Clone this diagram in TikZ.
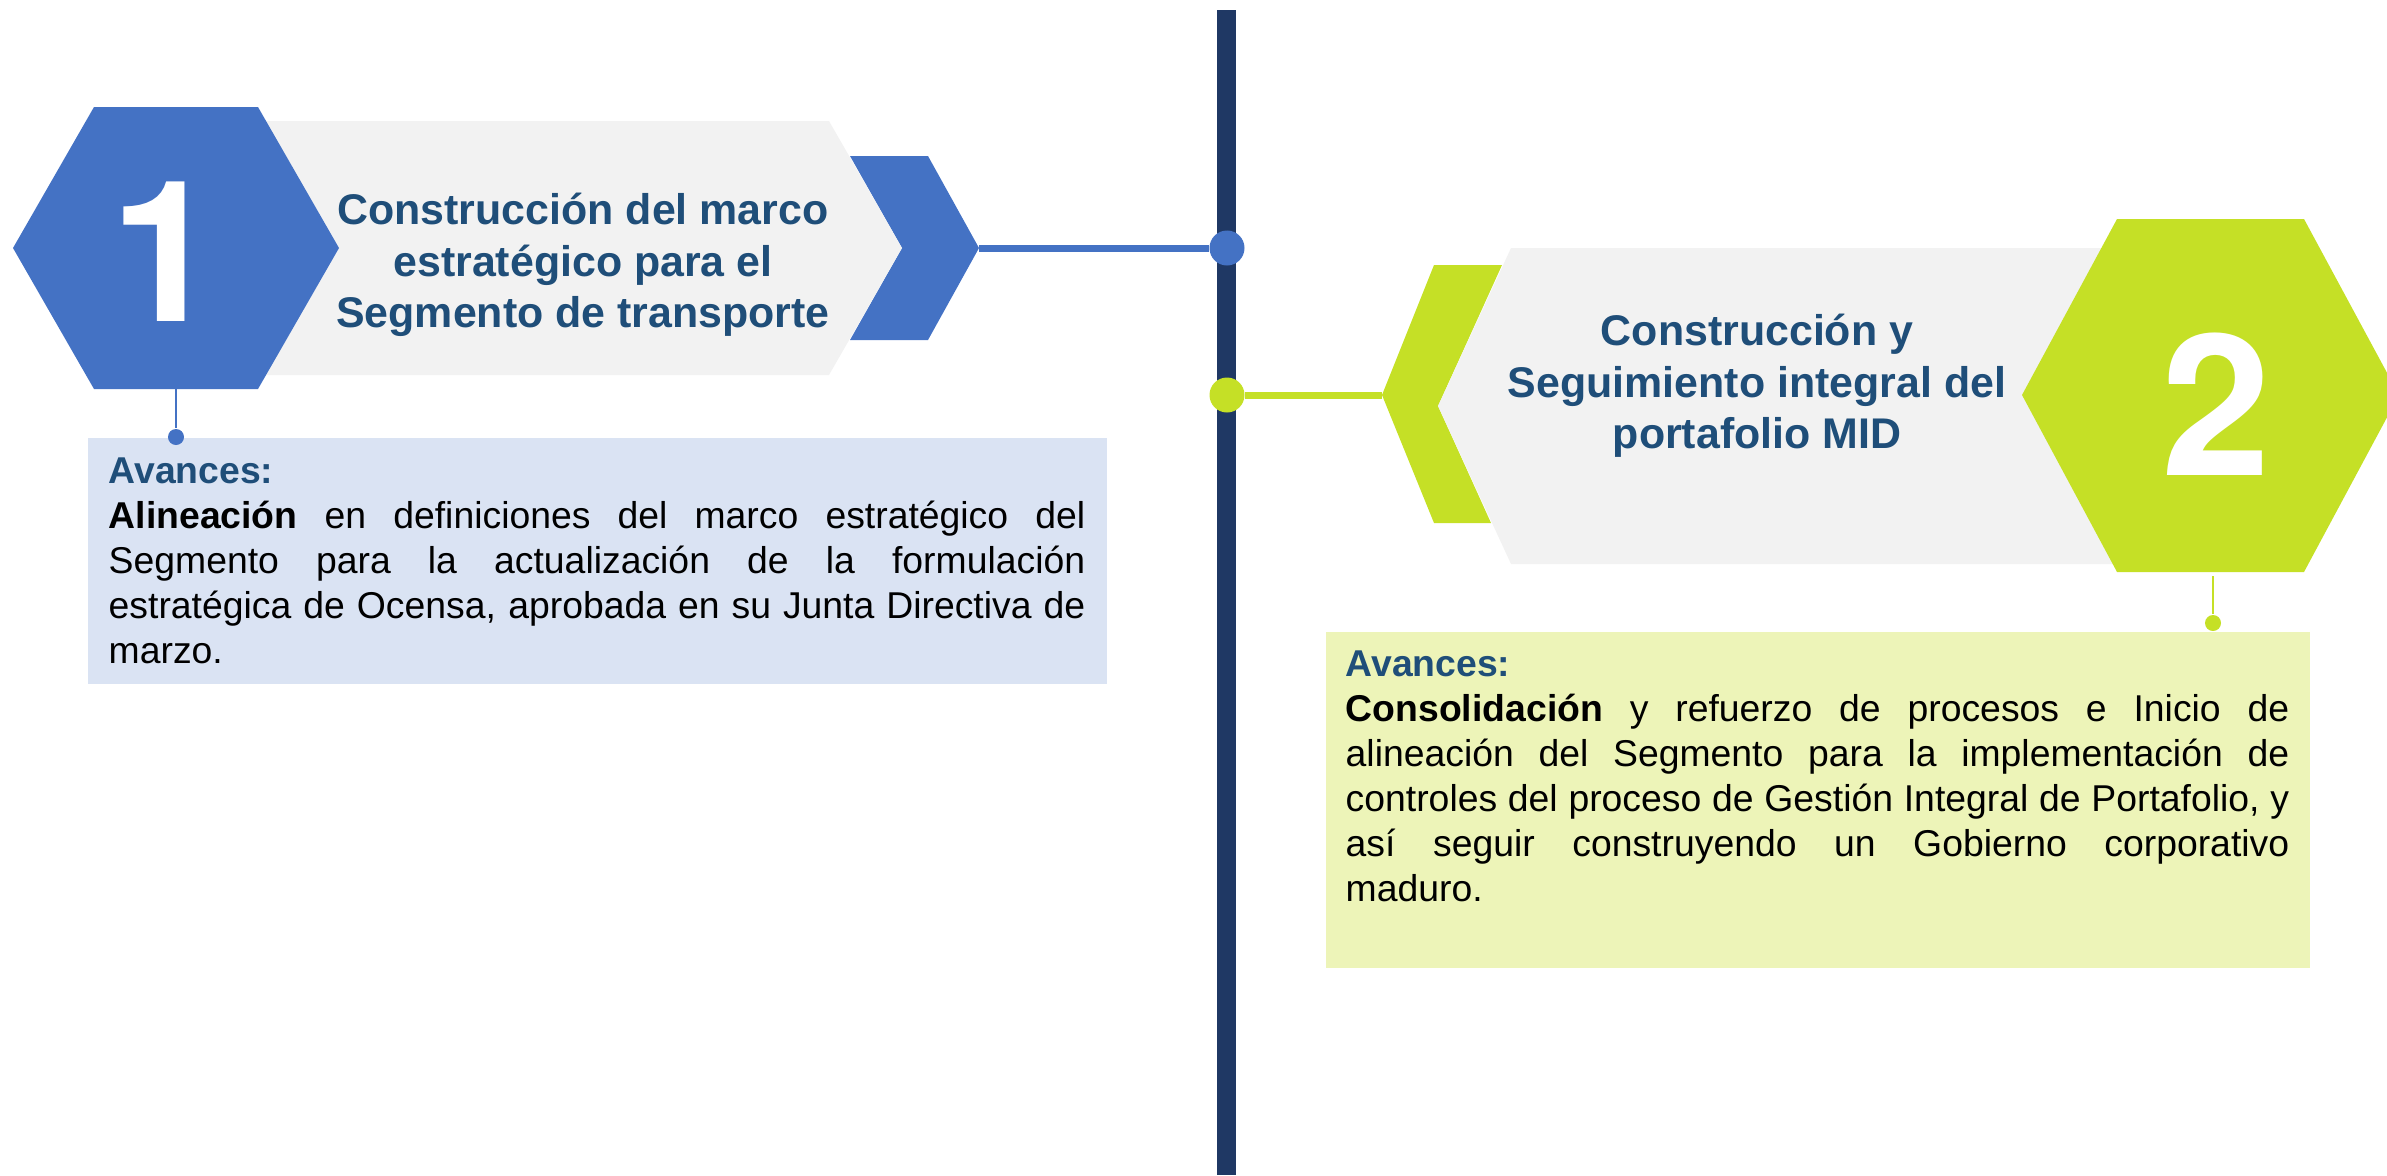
\documentclass[tikz,border=0pt]{standalone}
\usepackage{fontspec}
\setmainfont{Liberation Sans}[WordSpace={1,1,0}]
\newfontfamily\numberfont{TeX Gyre Heros}
\usetikzlibrary{positioning}
\definecolor{hexblue}{HTML}{4472C4}
\definecolor{hexgreen}{HTML}{C5E026}
\definecolor{banner}{HTML}{F2F2F2}
\definecolor{navy}{HTML}{1F3864}
\definecolor{titleblue}{HTML}{1F4E79}
\definecolor{boxblue}{HTML}{DAE3F3}
\definecolor{boxgreen}{HTML}{EDF4B8}
\hyphenpenalty=10000
\exhyphenpenalty=10000
\tolerance=10000
\tikzset{title node/.style={align=center,font=\fontsize{12.2}{14.6}\selectfont\bfseries,text=titleblue,inner sep=0pt},
	number node/.style={font=\numberfont\fontsize{56}{56}\selectfont\bfseries,text=white,inner sep=0pt},
	text node/.style={align=justify,font=\fontsize{10.62}{12.8}\selectfont,inner sep=0pt,anchor=north west},
	box node/.style={anchor=north west,inner sep=0pt,draw=none},
	knot/.style={circle,inner sep=0pt,minimum size=0.35cm},
	small knot/.style={circle,inner sep=0pt,minimum size=0.16cm},
}

\begin{document}
\begin{tikzpicture}[x=0.01cm,y=-0.01cm]
	\useasboundingbox (0,0) rectangle (2387,1175);
	
	% timeline
	\coordinate (top) at (1226,10);
	\coordinate (bottom) at (1226,1175);
	\draw[navy,line width=0.19cm] (top) -- (bottom);
	
	% step 1
	\fill[hexblue] (850,156) -- (928,156) -- (979,248) -- (928,340) -- (850,340) -- (902,248) -- cycle;
	\fill[banner] (258,121) -- (829,121) -- (902,248) -- (829,375) -- (258,375) -- cycle;
	\fill[hexblue] (94,107) -- (258,107) -- (339,248) -- (258,389) -- (94,389) -- (13,248) -- cycle;
	\node[number node] (1) at (165,252) {1};
	\node[title node] (title1) at (583,265) {Construcción del marco\\estratégico para el\\Segmento de transporte};
	\coordinate (tip1) at (979,248);
	\coordinate (foot1) at (176,389);
	
	% step 2
	\fill[hexgreen] (1434,265) -- (1502,265) -- (1438,406) -- (1491,523) -- (1434,523) -- (1382,395) -- cycle;
	\fill[banner] (1511,248) -- (2130,248) -- (2130,564) -- (1511,564) -- (1438,406) -- cycle;
	\fill[hexgreen] (2117,219) -- (2304,219) -- (2399,395) -- (2304,572) -- (2117,572) -- (2022,395) -- cycle;
	\node[number node] (2) at (2216,404) {2};
	\node[title node] (title2) at (1757,386) {Construcción y\\Seguimiento integral del\\portafolio MID};
	\coordinate (tip2) at (1382,395);
	\coordinate (foot2) at (2213,576);
	
	% boxes
	\node[box node,fill=boxblue,minimum width=10.19cm,minimum height=2.46cm] (boxA) at (87,437) {};
	\node[box node,fill=boxgreen,minimum width=9.84cm,minimum height=3.36cm] (boxB) at (1325,631) {};
	\node[text node,text width=9.76cm] (textA) at ([shift={(21,20)}]boxA.north west)
	{{\color{titleblue}\bfseries Avances:}\par
		\textbf{Alineación} en definiciones del marco estratégico del Segmento para la actualización de la formulación estratégica de Ocensa, aprobada en su Junta Directiva de marzo.};
	\node[text node,text width=9.43cm] (textB) at ([shift={(20,19)}]boxB.north west)
	{{\color{titleblue}\bfseries Avances:}\par
		\textbf{Consolidación} y refuerzo de procesos e Inicio de alineación del Segmento para la implementación de controles del proceso de Gestión Integral de Portafolio, y\linebreak así seguir construyendo un Gobierno corporativo maduro.};
	
	% dots
	\node[knot,fill=hexblue] (dot1) at (1227,248) {};
	\node[knot,fill=hexgreen] (dot2) at (1227,395) {};
	\node[small knot,fill=hexblue] (pin1) at (176,437) {};
	\node[small knot,fill=hexgreen] (pin2) at (2213,623) {};
	
	\path[draw,line width=0.07cm]
	(tip1) edge[hexblue] (dot1)
	(dot2) edge[hexgreen] (tip2)
	;
	\path[draw,line width=0.02cm]
	(foot1) edge[hexblue] (pin1)
	(foot2) edge[hexgreen] (pin2)
	;
\end{tikzpicture}
\end{document}
